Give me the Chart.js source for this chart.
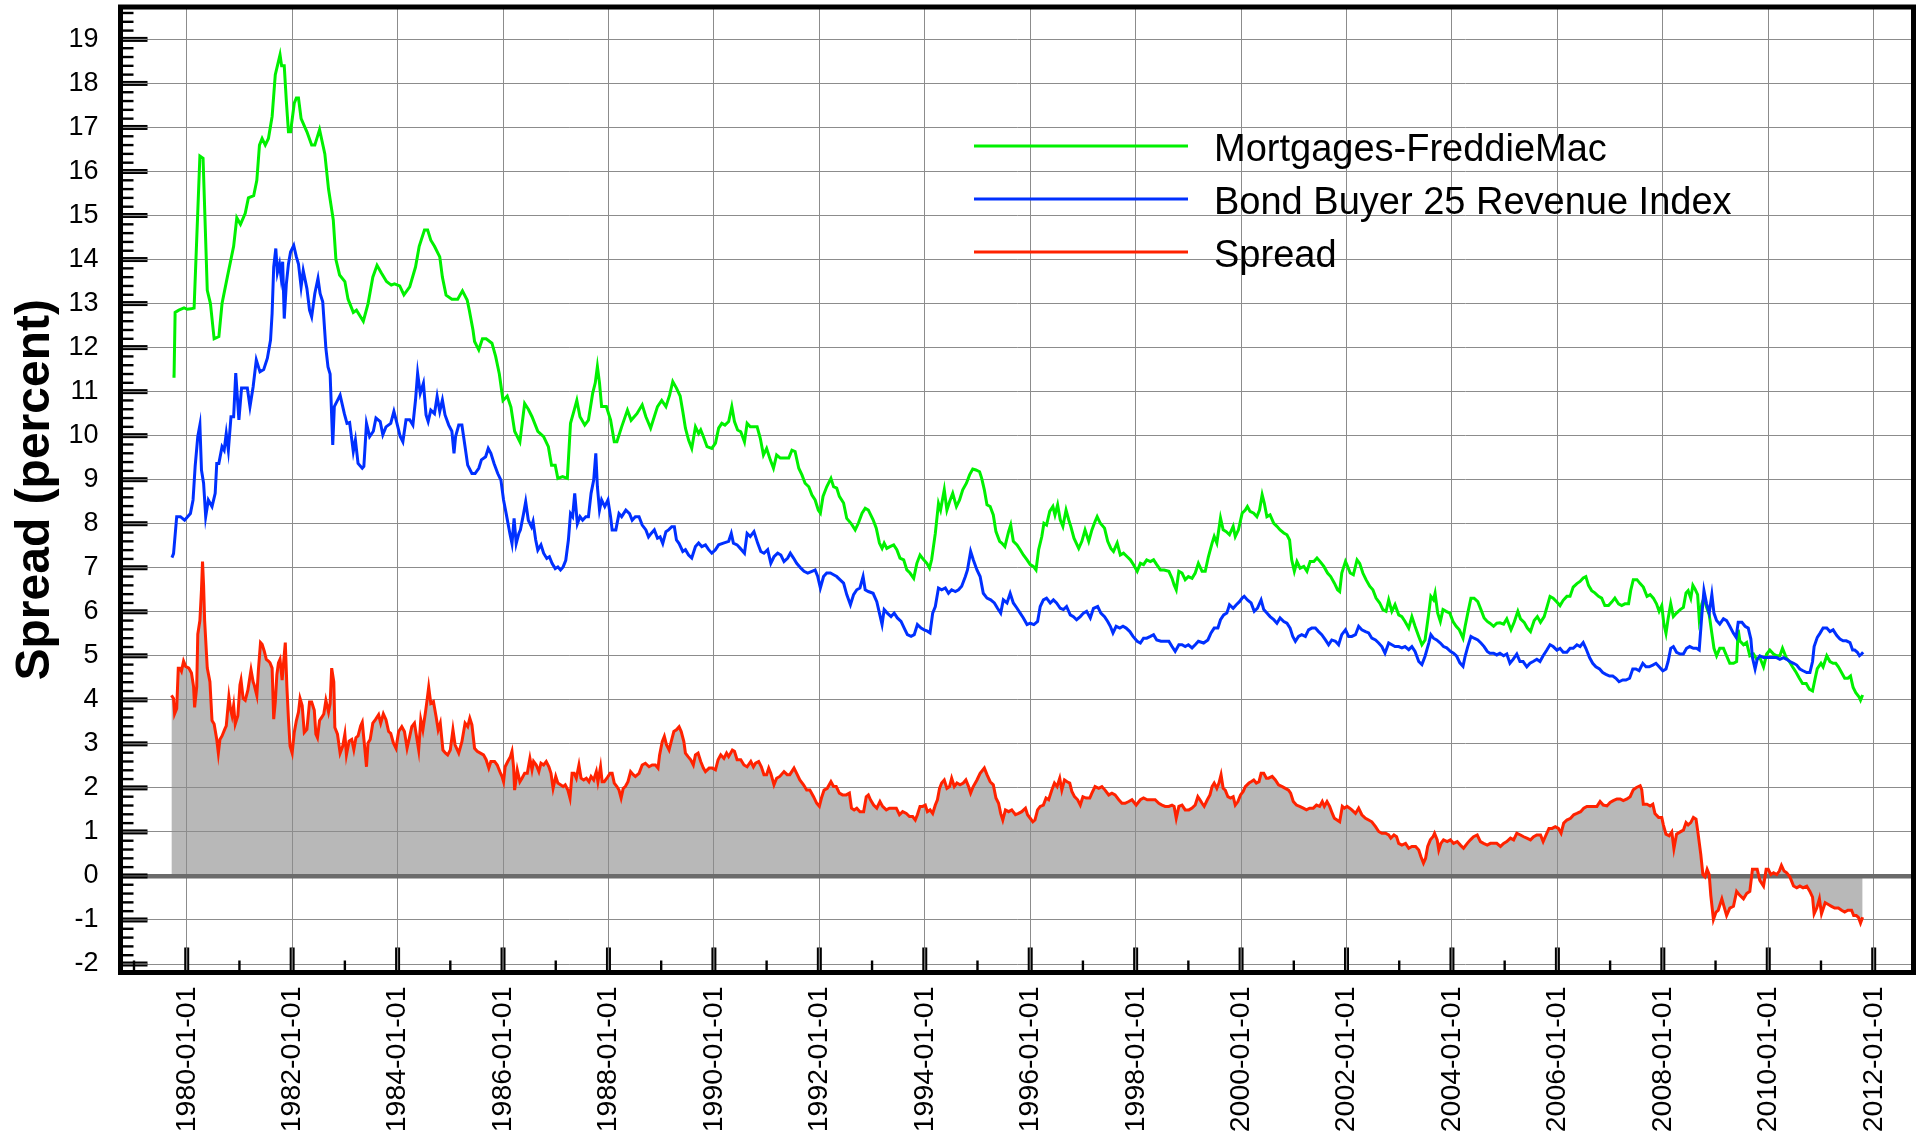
<!DOCTYPE html>
<html><head><meta charset="utf-8">
<script src="https://cdn.jsdelivr.net/npm/chart.js@4.4.0/dist/chart.umd.min.js"></script>
<style>html,body{margin:0;padding:0;background:#fff;}#wrap{width:1919px;height:1133px;position:relative;}</style>
</head><body><div id="wrap"><canvas id="c" width="1919" height="1133"></canvas></div>
<script>
const xTickYears = [1980,1982,1984,1986,1988,1990,1992,1994,1996,1998,2000,2002,2004,2006,2008,2010,2012];
const yTickValues = [-2,-1,0,1,2,3,4,5,6,7,8,9,10,11,12,13,14,15,16,17,18,19];
const seriesLabels = ['Mortgages-FreddieMac','Bond Buyer 25 Revenue Index','Spread'];

const mortgageSeries = [[1979.73,11.35],[1979.76,11.35],[1979.78,12.8],[1979.85,12.85],[1979.95,12.9],[1980.01,12.87],[1980.08,12.88],[1980.14,12.9],[1980.25,16.35],[1980.31,16.3],[1980.39,13.3],[1980.45,13.0],[1980.52,12.2],[1980.61,12.25],[1980.67,13.0],[1980.77,13.6],[1980.89,14.3],[1980.95,14.95],[1981.02,14.8],[1981.11,15.05],[1981.17,15.4],[1981.27,15.45],[1981.33,15.8],[1981.38,16.6],[1981.43,16.75],[1981.49,16.6],[1981.55,16.75],[1981.62,17.25],[1981.68,18.2],[1981.72,18.4],[1981.77,18.65],[1981.8,18.4],[1981.85,18.4],[1981.89,17.6],[1981.93,16.9],[1981.97,16.9],[1982.04,17.55],[1982.08,17.67],[1982.12,17.67],[1982.17,17.2],[1982.28,16.9],[1982.37,16.6],[1982.43,16.6],[1982.52,16.95],[1982.62,16.4],[1982.69,15.6],[1982.78,14.9],[1982.83,14.0],[1982.9,13.65],[1983.0,13.5],[1983.06,13.1],[1983.16,12.8],[1983.22,12.85],[1983.35,12.6],[1983.44,13.0],[1983.53,13.6],[1983.61,13.87],[1983.69,13.7],[1983.79,13.5],[1983.88,13.42],[1983.94,13.45],[1984.04,13.4],[1984.12,13.2],[1984.23,13.38],[1984.34,13.83],[1984.41,14.3],[1984.51,14.67],[1984.57,14.67],[1984.63,14.44],[1984.7,14.3],[1984.8,14.06],[1984.85,13.6],[1984.92,13.19],[1985.03,13.1],[1985.14,13.1],[1985.23,13.29],[1985.32,13.08],[1985.36,12.85],[1985.43,12.4],[1985.46,12.14],[1985.54,11.95],[1985.61,12.2],[1985.68,12.2],[1985.79,12.1],[1985.86,11.8],[1985.93,11.4],[1986.0,10.8],[1986.08,10.9],[1986.15,10.65],[1986.22,10.1],[1986.32,9.86],[1986.41,10.73],[1986.48,10.6],[1986.55,10.43],[1986.66,10.1],[1986.77,9.98],[1986.86,9.75],[1986.92,9.33],[1986.99,9.33],[1987.04,9.03],[1987.13,9.07],[1987.22,9.03],[1987.28,10.28],[1987.35,10.58],[1987.4,10.8],[1987.46,10.43],[1987.55,10.24],[1987.62,10.35],[1987.7,10.96],[1987.75,11.2],[1987.79,11.57],[1987.83,11.2],[1987.87,10.66],[1987.96,10.66],[1988.04,10.36],[1988.11,9.86],[1988.16,9.86],[1988.25,10.2],[1988.36,10.58],[1988.43,10.35],[1988.54,10.5],[1988.64,10.7],[1988.71,10.43],[1988.8,10.17],[1988.93,10.66],[1989.01,10.8],[1989.09,10.66],[1989.16,10.92],[1989.22,11.23],[1989.29,11.08],[1989.36,10.9],[1989.41,10.55],[1989.46,10.17],[1989.52,9.9],[1989.58,9.71],[1989.65,10.2],[1989.71,10.05],[1989.75,10.13],[1989.8,9.98],[1989.87,9.75],[1989.96,9.71],[1990.03,9.83],[1990.09,10.17],[1990.15,10.28],[1990.21,10.24],[1990.28,10.32],[1990.34,10.66],[1990.39,10.32],[1990.45,10.13],[1990.51,10.09],[1990.58,9.86],[1990.63,10.28],[1990.69,10.2],[1990.75,10.2],[1990.82,10.2],[1990.88,9.94],[1990.94,9.56],[1991.0,9.71],[1991.07,9.45],[1991.13,9.26],[1991.19,9.56],[1991.26,9.49],[1991.35,9.49],[1991.42,9.49],[1991.48,9.67],[1991.54,9.64],[1991.61,9.26],[1991.67,9.11],[1991.73,8.92],[1991.8,8.84],[1991.86,8.65],[1991.92,8.54],[1991.98,8.31],[1992.02,8.24],[1992.07,8.62],[1992.14,8.84],[1992.22,9.03],[1992.27,8.84],[1992.33,8.81],[1992.38,8.62],[1992.46,8.47],[1992.52,8.12],[1992.6,8.01],[1992.68,7.86],[1992.74,8.01],[1992.81,8.24],[1992.87,8.35],[1992.93,8.31],[1993.02,8.09],[1993.08,7.9],[1993.14,7.56],[1993.19,7.44],[1993.23,7.56],[1993.28,7.44],[1993.34,7.48],[1993.41,7.52],[1993.47,7.41],[1993.53,7.22],[1993.6,7.18],[1993.66,6.95],[1993.72,6.88],[1993.79,6.76],[1993.85,7.1],[1993.91,7.29],[1993.98,7.18],[1994.04,7.1],[1994.09,6.99],[1994.13,7.18],[1994.2,7.78],[1994.26,8.46],[1994.3,8.31],[1994.37,8.77],[1994.42,8.31],[1994.47,8.5],[1994.53,8.69],[1994.6,8.39],[1994.66,8.54],[1994.72,8.77],[1994.79,8.92],[1994.85,9.11],[1994.91,9.24],[1994.97,9.22],[1995.04,9.18],[1995.08,9.03],[1995.13,8.77],[1995.18,8.43],[1995.24,8.39],[1995.3,8.2],[1995.35,7.82],[1995.42,7.6],[1995.46,7.56],[1995.52,7.48],[1995.59,7.82],[1995.63,7.97],[1995.68,7.6],[1995.75,7.52],[1995.81,7.41],[1995.87,7.29],[1995.94,7.18],[1996.0,7.07],[1996.06,7.03],[1996.11,6.95],[1996.16,7.41],[1996.22,7.71],[1996.26,8.01],[1996.31,7.97],[1996.37,8.28],[1996.43,8.39],[1996.47,8.2],[1996.52,8.43],[1996.57,8.09],[1996.62,7.94],[1996.68,8.31],[1996.73,8.09],[1996.77,7.94],[1996.83,7.67],[1996.92,7.44],[1996.98,7.6],[1997.04,7.86],[1997.11,7.6],[1997.17,7.86],[1997.23,8.05],[1997.27,8.16],[1997.33,8.01],[1997.41,7.9],[1997.47,7.6],[1997.53,7.44],[1997.58,7.37],[1997.65,7.56],[1997.71,7.29],[1997.77,7.33],[1997.84,7.25],[1997.9,7.18],[1997.96,7.07],[1998.03,6.92],[1998.09,7.1],[1998.15,7.07],[1998.21,7.18],[1998.28,7.14],[1998.34,7.18],[1998.4,7.07],[1998.47,6.95],[1998.54,6.95],[1998.63,6.92],[1998.69,6.76],[1998.73,6.61],[1998.77,6.5],[1998.82,6.92],[1998.88,6.88],[1998.94,6.73],[1999.0,6.8],[1999.07,6.76],[1999.13,6.88],[1999.19,7.1],[1999.26,6.92],[1999.32,6.92],[1999.38,7.25],[1999.45,7.56],[1999.49,7.71],[1999.54,7.56],[1999.61,8.13],[1999.66,7.86],[1999.72,7.82],[1999.78,7.75],[1999.85,7.94],[1999.89,7.71],[1999.95,7.86],[2000.02,8.24],[2000.08,8.31],[2000.12,8.39],[2000.17,8.28],[2000.24,8.24],[2000.3,8.16],[2000.35,8.31],[2000.4,8.66],[2000.44,8.47],[2000.49,8.16],[2000.55,8.2],[2000.62,8.01],[2000.68,7.94],[2000.74,7.86],[2000.81,7.79],[2000.87,7.75],[2000.92,7.63],[2000.96,7.18],[2001.01,6.92],[2001.06,7.14],[2001.12,6.99],[2001.19,7.03],[2001.25,6.92],[2001.31,7.14],[2001.38,7.14],[2001.44,7.22],[2001.5,7.14],[2001.57,7.03],[2001.64,6.88],[2001.7,6.8],[2001.77,6.65],[2001.83,6.5],[2001.87,6.46],[2001.91,6.88],[2001.98,7.14],[2002.02,7.03],[2002.07,6.88],[2002.13,6.84],[2002.2,7.18],[2002.25,7.1],[2002.31,6.88],[2002.37,6.73],[2002.44,6.58],[2002.5,6.5],[2002.56,6.31],[2002.63,6.2],[2002.69,6.05],[2002.75,6.01],[2002.8,6.27],[2002.86,6.01],[2002.92,6.16],[2002.99,5.93],[2003.05,5.89],[2003.11,5.78],[2003.18,5.63],[2003.24,5.89],[2003.3,5.67],[2003.37,5.44],[2003.43,5.25],[2003.49,5.36],[2003.56,5.97],[2003.6,6.35],[2003.65,6.27],[2003.68,6.42],[2003.73,5.97],[2003.78,5.78],[2003.83,6.05],[2003.89,6.01],[2003.96,5.97],[2004.02,5.78],[2004.08,5.67],[2004.14,5.59],[2004.21,5.4],[2004.25,5.67],[2004.3,5.97],[2004.36,6.31],[2004.42,6.31],[2004.49,6.23],[2004.55,6.05],[2004.61,5.86],[2004.67,5.78],[2004.72,5.74],[2004.79,5.67],[2004.85,5.74],[2004.91,5.75],[2004.98,5.72],[2005.04,5.84],[2005.12,5.59],[2005.18,5.76],[2005.25,6.01],[2005.3,5.84],[2005.37,5.76],[2005.43,5.63],[2005.49,5.55],[2005.56,5.8],[2005.62,5.89],[2005.68,5.76],[2005.75,5.89],[2005.81,6.14],[2005.86,6.35],[2005.92,6.31],[2005.99,6.22],[2006.05,6.14],[2006.11,6.26],[2006.18,6.35],[2006.24,6.35],[2006.3,6.56],[2006.37,6.64],[2006.43,6.69],[2006.49,6.77],[2006.54,6.8],[2006.59,6.6],[2006.65,6.48],[2006.71,6.43],[2006.78,6.35],[2006.84,6.31],[2006.9,6.14],[2006.97,6.14],[2007.03,6.22],[2007.09,6.31],[2007.16,6.18],[2007.22,6.14],[2007.28,6.18],[2007.35,6.18],[2007.39,6.48],[2007.44,6.73],[2007.51,6.73],[2007.57,6.64],[2007.63,6.56],[2007.7,6.35],[2007.76,6.39],[2007.82,6.31],[2007.88,6.18],[2007.93,6.01],[2007.98,6.14],[2008.02,5.72],[2008.06,5.51],[2008.1,5.84],[2008.15,6.18],[2008.2,5.89],[2008.26,5.97],[2008.33,6.05],[2008.39,6.1],[2008.44,6.43],[2008.48,6.48],[2008.53,6.31],[2008.57,6.6],[2008.61,6.52],[2008.66,6.39],[2008.69,5.84],[2008.74,6.18],[2008.78,6.31],[2008.83,6.1],[2008.88,5.93],[2008.93,5.51],[2008.97,5.17],[2009.02,5.0],[2009.08,5.17],[2009.15,5.17],[2009.21,5.0],[2009.27,4.83],[2009.34,4.83],[2009.4,4.87],[2009.43,5.59],[2009.46,5.34],[2009.53,5.25],[2009.59,5.3],[2009.65,5.0],[2009.72,5.04],[2009.78,4.92],[2009.84,4.96],[2009.91,4.75],[2009.97,5.04],[2010.03,5.13],[2010.1,5.04],[2010.16,5.0],[2010.22,5.0],[2010.27,5.17],[2010.34,4.96],[2010.4,4.87],[2010.46,4.75],[2010.53,4.62],[2010.59,4.49],[2010.65,4.37],[2010.72,4.37],[2010.78,4.24],[2010.84,4.2],[2010.89,4.49],[2010.93,4.71],[2011.0,4.83],[2011.04,4.75],[2011.11,5.0],[2011.17,4.87],[2011.23,4.83],[2011.28,4.83],[2011.33,4.75],[2011.39,4.62],[2011.45,4.49],[2011.51,4.49],[2011.56,4.54],[2011.61,4.28],[2011.66,4.16],[2011.72,4.07],[2011.75,3.99],[2011.79,4.11]];

const bondSeries = [[1979.72,7.23],[1979.75,7.32],[1979.81,8.16],[1979.88,8.16],[1979.96,8.08],[1980.07,8.23],[1980.12,8.54],[1980.16,9.3],[1980.21,9.98],[1980.25,10.24],[1980.28,9.22],[1980.32,8.92],[1980.36,8.16],[1980.41,8.54],[1980.48,8.39],[1980.54,8.69],[1980.57,9.37],[1980.61,9.37],[1980.67,9.75],[1980.71,9.67],[1980.75,10.05],[1980.79,9.67],[1980.84,10.43],[1980.89,10.43],[1980.93,11.42],[1980.99,10.36],[1981.04,11.08],[1981.11,11.08],[1981.15,11.08],[1981.2,10.66],[1981.26,11.11],[1981.32,11.72],[1981.39,11.45],[1981.46,11.5],[1981.53,11.76],[1981.59,12.17],[1981.62,12.78],[1981.65,13.83],[1981.69,14.25],[1981.72,13.7],[1981.76,13.9],[1981.79,13.6],[1981.82,13.95],[1981.85,12.66],[1981.89,13.45],[1981.93,13.9],[1981.97,14.17],[1982.03,14.32],[1982.08,14.06],[1982.12,13.9],[1982.17,13.38],[1982.21,13.75],[1982.28,13.34],[1982.33,12.85],[1982.37,12.7],[1982.43,13.23],[1982.49,13.57],[1982.53,13.23],[1982.58,13.04],[1982.64,11.98],[1982.68,11.56],[1982.72,11.4],[1982.77,9.79],[1982.8,10.66],[1982.86,10.8],[1982.91,10.92],[1982.99,10.5],[1983.04,10.28],[1983.09,10.3],[1983.16,9.64],[1983.2,9.9],[1983.25,9.37],[1983.33,9.26],[1983.36,9.3],[1983.41,10.28],[1983.47,9.98],[1983.54,10.1],[1983.59,10.4],[1983.67,10.32],[1983.72,10.02],[1983.78,10.2],[1983.87,10.28],[1983.93,10.55],[1983.98,10.32],[1984.05,9.98],[1984.1,9.86],[1984.16,10.36],[1984.23,10.36],[1984.29,10.24],[1984.34,10.81],[1984.38,11.42],[1984.43,10.96],[1984.49,11.19],[1984.54,10.47],[1984.58,10.32],[1984.63,10.58],[1984.7,10.5],[1984.75,10.89],[1984.8,10.55],[1984.85,10.81],[1984.9,10.47],[1984.97,10.24],[1985.03,10.1],[1985.07,9.6],[1985.1,9.98],[1985.16,10.24],[1985.22,10.24],[1985.28,9.75],[1985.33,9.33],[1985.41,9.14],[1985.47,9.14],[1985.54,9.26],[1985.59,9.45],[1985.67,9.52],[1985.72,9.71],[1985.77,9.6],[1985.83,9.37],[1985.9,9.14],[1985.96,8.99],[1986.01,8.54],[1986.06,8.23],[1986.13,7.78],[1986.17,7.55],[1986.21,8.12],[1986.25,7.55],[1986.3,7.78],[1986.33,7.86],[1986.39,8.23],[1986.43,8.5],[1986.48,8.08],[1986.54,7.93],[1986.57,8.05],[1986.62,7.63],[1986.66,7.4],[1986.72,7.52],[1986.77,7.33],[1986.83,7.21],[1986.88,7.25],[1986.93,7.1],[1986.99,6.98],[1987.04,7.02],[1987.09,6.95],[1987.14,7.02],[1987.19,7.17],[1987.24,7.63],[1987.28,8.23],[1987.32,8.16],[1987.36,8.69],[1987.41,8.0],[1987.46,8.16],[1987.51,8.08],[1987.57,8.16],[1987.62,8.16],[1987.67,8.69],[1987.72,8.99],[1987.76,9.6],[1987.79,8.84],[1987.83,8.31],[1987.87,8.54],[1987.93,8.39],[1987.99,8.54],[1988.04,8.16],[1988.07,7.86],[1988.14,7.86],[1988.2,8.23],[1988.25,8.16],[1988.33,8.31],[1988.4,8.23],[1988.45,8.08],[1988.51,8.16],[1988.58,8.16],[1988.64,7.97],[1988.71,7.86],[1988.76,7.7],[1988.81,7.78],[1988.87,7.86],[1988.93,7.67],[1988.98,7.7],[1989.03,7.55],[1989.09,7.82],[1989.14,7.86],[1989.2,7.93],[1989.25,7.93],[1989.29,7.63],[1989.34,7.55],[1989.41,7.37],[1989.46,7.41],[1989.52,7.29],[1989.58,7.22],[1989.65,7.48],[1989.71,7.56],[1989.77,7.48],[1989.84,7.52],[1989.9,7.41],[1989.96,7.33],[1990.03,7.41],[1990.09,7.52],[1990.18,7.56],[1990.28,7.6],[1990.33,7.78],[1990.37,7.56],[1990.44,7.52],[1990.5,7.44],[1990.58,7.33],[1990.63,7.78],[1990.69,7.71],[1990.76,7.82],[1990.83,7.56],[1990.89,7.37],[1990.95,7.33],[1991.02,7.41],[1991.08,7.1],[1991.14,7.25],[1991.21,7.33],[1991.27,7.29],[1991.33,7.14],[1991.4,7.22],[1991.45,7.33],[1991.51,7.22],[1991.57,7.1],[1991.65,6.99],[1991.71,6.92],[1991.78,6.88],[1991.86,6.92],[1991.92,6.95],[1991.97,6.8],[1992.02,6.54],[1992.08,6.8],[1992.14,6.88],[1992.21,6.88],[1992.27,6.84],[1992.33,6.8],[1992.39,6.73],[1992.46,6.65],[1992.52,6.39],[1992.59,6.16],[1992.65,6.39],[1992.71,6.5],[1992.77,6.54],[1992.83,6.8],[1992.87,6.5],[1992.93,6.46],[1993.02,6.42],[1993.09,6.23],[1993.14,5.97],[1993.19,5.71],[1993.23,6.05],[1993.29,5.97],[1993.36,5.89],[1993.42,5.97],[1993.48,5.86],[1993.55,5.78],[1993.61,5.63],[1993.67,5.48],[1993.74,5.44],[1993.8,5.48],[1993.86,5.71],[1993.93,5.63],[1993.99,5.59],[1994.05,5.56],[1994.1,5.52],[1994.15,5.97],[1994.2,6.12],[1994.26,6.54],[1994.32,6.5],[1994.39,6.54],[1994.45,6.42],[1994.51,6.5],[1994.58,6.46],[1994.64,6.5],[1994.7,6.58],[1994.77,6.8],[1994.81,6.95],[1994.87,7.37],[1994.92,7.18],[1994.99,6.95],[1995.05,6.8],[1995.11,6.42],[1995.18,6.31],[1995.25,6.27],[1995.32,6.2],[1995.38,6.08],[1995.44,5.97],[1995.49,6.27],[1995.56,6.2],[1995.62,6.42],[1995.68,6.2],[1995.75,6.08],[1995.81,5.97],[1995.87,5.86],[1995.94,5.71],[1996.0,5.74],[1996.07,5.71],[1996.14,5.78],[1996.19,6.12],[1996.25,6.27],[1996.31,6.31],[1996.38,6.2],[1996.44,6.27],[1996.5,6.2],[1996.57,6.08],[1996.63,6.05],[1996.69,6.12],[1996.76,5.93],[1996.82,5.89],[1996.88,5.82],[1996.95,5.89],[1997.01,5.97],[1997.07,6.01],[1997.14,5.86],[1997.2,6.08],[1997.28,6.12],[1997.34,5.97],[1997.41,5.89],[1997.47,5.78],[1997.52,5.67],[1997.57,5.52],[1997.63,5.67],[1997.7,5.63],[1997.76,5.67],[1997.82,5.63],[1997.89,5.55],[1997.95,5.44],[1998.03,5.33],[1998.09,5.29],[1998.15,5.4],[1998.21,5.4],[1998.28,5.44],[1998.34,5.48],[1998.4,5.36],[1998.48,5.33],[1998.56,5.33],[1998.63,5.33],[1998.69,5.21],[1998.75,5.1],[1998.82,5.25],[1998.88,5.25],[1998.94,5.21],[1999.0,5.25],[1999.07,5.18],[1999.13,5.25],[1999.19,5.33],[1999.29,5.29],[1999.37,5.36],[1999.43,5.52],[1999.49,5.63],[1999.56,5.63],[1999.61,5.82],[1999.67,5.93],[1999.73,5.97],[1999.78,6.16],[1999.85,6.08],[1999.91,6.16],[1999.97,6.23],[2000.02,6.31],[2000.06,6.35],[2000.12,6.27],[2000.19,6.2],[2000.25,6.01],[2000.31,6.08],[2000.38,6.27],[2000.43,6.05],[2000.49,5.97],[2000.55,5.89],[2000.62,5.82],[2000.68,5.74],[2000.74,5.86],[2000.81,5.78],[2000.87,5.74],[2000.93,5.63],[2000.98,5.44],[2001.03,5.33],[2001.09,5.44],[2001.15,5.48],[2001.22,5.44],[2001.28,5.59],[2001.34,5.63],[2001.41,5.63],[2001.47,5.55],[2001.53,5.48],[2001.6,5.36],[2001.66,5.25],[2001.72,5.36],[2001.79,5.33],[2001.85,5.25],[2001.91,5.48],[2001.98,5.59],[2002.04,5.44],[2002.1,5.44],[2002.17,5.48],[2002.23,5.67],[2002.29,5.59],[2002.36,5.55],[2002.42,5.52],[2002.48,5.4],[2002.55,5.36],[2002.61,5.29],[2002.67,5.21],[2002.73,5.06],[2002.8,5.29],[2002.86,5.25],[2002.92,5.21],[2002.99,5.21],[2003.05,5.18],[2003.11,5.21],[2003.18,5.14],[2003.24,5.21],[2003.3,5.1],[2003.37,4.87],[2003.43,4.8],[2003.49,4.99],[2003.56,5.29],[2003.6,5.48],[2003.65,5.4],[2003.71,5.36],[2003.78,5.29],[2003.84,5.21],[2003.9,5.18],[2003.97,5.1],[2004.03,5.06],[2004.09,4.99],[2004.15,4.84],[2004.21,4.76],[2004.25,4.99],[2004.3,5.21],[2004.36,5.44],[2004.42,5.4],[2004.49,5.36],[2004.55,5.29],[2004.61,5.21],[2004.67,5.1],[2004.72,5.06],[2004.79,5.06],[2004.85,5.02],[2004.91,5.06],[2004.98,5.0],[2005.04,5.04],[2005.1,4.83],[2005.16,4.92],[2005.23,5.04],[2005.29,4.87],[2005.35,4.87],[2005.42,4.75],[2005.48,4.83],[2005.54,4.87],[2005.61,4.92],[2005.67,4.87],[2005.73,5.0],[2005.8,5.13],[2005.86,5.25],[2005.92,5.21],[2005.99,5.13],[2006.05,5.17],[2006.11,5.08],[2006.18,5.08],[2006.24,5.17],[2006.3,5.17],[2006.37,5.25],[2006.43,5.21],[2006.49,5.3],[2006.54,5.17],[2006.61,4.96],[2006.67,4.83],[2006.73,4.75],[2006.8,4.7],[2006.86,4.62],[2006.92,4.58],[2006.99,4.54],[2007.05,4.54],[2007.11,4.49],[2007.17,4.41],[2007.24,4.45],[2007.3,4.45],[2007.37,4.49],[2007.43,4.7],[2007.49,4.7],[2007.55,4.66],[2007.62,4.83],[2007.68,4.75],[2007.74,4.75],[2007.81,4.79],[2007.87,4.83],[2007.93,4.75],[2008.0,4.66],[2008.06,4.7],[2008.1,4.87],[2008.15,5.17],[2008.2,5.21],[2008.26,5.08],[2008.33,5.04],[2008.39,5.04],[2008.45,5.17],[2008.51,5.21],[2008.58,5.17],[2008.64,5.17],[2008.69,5.13],[2008.74,5.93],[2008.78,6.48],[2008.83,6.18],[2008.88,5.97],[2008.93,6.39],[2008.97,5.97],[2009.02,5.8],[2009.08,5.72],[2009.15,5.84],[2009.21,5.8],[2009.27,5.67],[2009.34,5.51],[2009.39,5.42],[2009.43,5.76],[2009.5,5.76],[2009.56,5.67],[2009.62,5.63],[2009.67,5.38],[2009.7,4.96],[2009.75,4.7],[2009.79,4.92],[2009.84,5.0],[2009.91,4.96],[2009.97,4.96],[2010.03,4.96],[2010.1,4.96],[2010.16,4.96],[2010.22,4.92],[2010.29,4.96],[2010.35,4.92],[2010.41,4.87],[2010.48,4.83],[2010.54,4.79],[2010.6,4.7],[2010.66,4.66],[2010.73,4.62],[2010.79,4.62],[2010.84,4.87],[2010.87,5.21],[2010.93,5.42],[2010.98,5.51],[2011.04,5.63],[2011.11,5.63],[2011.17,5.55],[2011.23,5.59],[2011.3,5.46],[2011.36,5.38],[2011.42,5.34],[2011.48,5.34],[2011.55,5.3],[2011.6,5.13],[2011.64,5.13],[2011.69,5.08],[2011.73,5.0],[2011.77,5.04],[2011.8,5.08]];

const spreadSeries = [[1979.71,4.1],[1979.75,4.03],[1979.77,3.68],[1979.81,3.8],[1979.84,4.72],[1979.87,4.72],[1979.9,4.65],[1979.94,4.88],[1979.98,4.76],[1980.04,4.72],[1980.09,4.61],[1980.13,4.3],[1980.15,3.83],[1980.19,4.3],[1980.21,5.49],[1980.25,5.8],[1980.28,6.5],[1980.3,7.14],[1980.32,6.6],[1980.34,5.8],[1980.39,4.72],[1980.44,4.41],[1980.48,3.53],[1980.52,3.45],[1980.57,3.1],[1980.6,2.79],[1980.63,3.1],[1980.67,3.18],[1980.72,3.33],[1980.75,3.41],[1980.8,4.07],[1980.83,3.8],[1980.86,3.64],[1980.89,3.87],[1980.92,3.45],[1980.97,3.64],[1981.01,4.34],[1981.03,4.45],[1981.07,4.03],[1981.11,3.99],[1981.16,4.22],[1981.19,4.45],[1981.22,4.68],[1981.26,4.41],[1981.28,4.34],[1981.33,4.1],[1981.36,4.68],[1981.4,5.3],[1981.43,5.26],[1981.47,5.11],[1981.51,4.92],[1981.55,4.88],[1981.58,4.84],[1981.62,4.72],[1981.65,3.56],[1981.68,3.95],[1981.71,4.57],[1981.74,4.84],[1981.77,4.92],[1981.81,4.45],[1981.84,4.88],[1981.87,5.3],[1981.9,4.3],[1981.93,3.56],[1981.96,2.95],[1982.0,2.79],[1982.04,3.26],[1982.08,3.53],[1982.12,3.72],[1982.15,4.03],[1982.19,3.87],[1982.23,3.26],[1982.28,3.33],[1982.33,3.95],[1982.37,3.95],[1982.42,3.76],[1982.45,3.22],[1982.48,3.14],[1982.52,3.53],[1982.56,3.6],[1982.6,3.68],[1982.64,3.99],[1982.69,3.72],[1982.72,3.91],[1982.75,4.72],[1982.79,4.41],[1982.81,3.37],[1982.86,3.22],[1982.91,2.79],[1982.96,2.95],[1983.0,3.22],[1983.03,2.75],[1983.08,3.06],[1983.13,3.1],[1983.17,2.87],[1983.21,3.14],[1983.25,3.18],[1983.3,3.41],[1983.33,3.49],[1983.38,2.87],[1983.41,2.48],[1983.44,3.02],[1983.48,3.1],[1983.53,3.47],[1983.58,3.55],[1983.64,3.66],[1983.68,3.47],[1983.73,3.68],[1983.78,3.55],[1983.83,3.28],[1983.87,3.24],[1983.92,3.02],[1983.97,2.9],[1984.02,3.28],[1984.08,3.39],[1984.13,3.28],[1984.18,2.9],[1984.23,3.17],[1984.27,3.39],[1984.32,3.47],[1984.35,3.24],[1984.4,2.86],[1984.44,3.55],[1984.48,3.32],[1984.53,3.73],[1984.56,4.0],[1984.59,4.29],[1984.63,3.92],[1984.68,3.96],[1984.73,3.62],[1984.77,3.32],[1984.81,3.47],[1984.86,2.86],[1984.91,2.79],[1984.95,2.75],[1985.0,2.86],[1985.05,3.32],[1985.09,2.98],[1985.16,2.79],[1985.22,3.05],[1985.28,3.47],[1985.33,3.39],[1985.37,3.58],[1985.41,3.43],[1985.46,2.9],[1985.51,2.83],[1985.57,2.79],[1985.63,2.75],[1985.68,2.64],[1985.73,2.45],[1985.77,2.6],[1985.84,2.6],[1985.89,2.52],[1985.94,2.37],[1985.98,2.26],[1986.01,2.14],[1986.04,2.48],[1986.09,2.6],[1986.14,2.71],[1986.17,2.83],[1986.2,2.48],[1986.22,1.95],[1986.27,2.41],[1986.32,2.14],[1986.36,2.22],[1986.41,2.33],[1986.46,2.33],[1986.51,2.67],[1986.55,2.41],[1986.58,2.6],[1986.63,2.52],[1986.68,2.37],[1986.72,2.56],[1986.77,2.52],[1986.82,2.6],[1986.87,2.48],[1986.91,2.33],[1986.95,1.99],[1987.0,2.26],[1987.04,2.11],[1987.09,2.07],[1987.14,2.03],[1987.18,2.07],[1987.23,1.95],[1987.27,1.77],[1987.31,2.33],[1987.35,2.33],[1987.39,2.22],[1987.44,2.52],[1987.48,2.22],[1987.53,2.18],[1987.58,2.22],[1987.63,2.14],[1987.67,2.26],[1987.72,2.18],[1987.77,2.37],[1987.8,2.14],[1987.85,2.48],[1987.88,2.14],[1987.92,2.14],[1987.97,2.22],[1988.03,2.33],[1988.07,2.33],[1988.11,2.11],[1988.16,2.03],[1988.2,1.95],[1988.24,1.77],[1988.28,1.99],[1988.32,2.03],[1988.37,2.14],[1988.42,2.37],[1988.47,2.3],[1988.51,2.26],[1988.58,2.33],[1988.64,2.52],[1988.7,2.56],[1988.77,2.48],[1988.83,2.52],[1988.89,2.52],[1988.94,2.45],[1988.97,2.75],[1989.02,3.05],[1989.06,3.17],[1989.1,2.98],[1989.15,2.86],[1989.19,3.05],[1989.24,3.28],[1989.29,3.32],[1989.34,3.39],[1989.38,3.28],[1989.43,3.05],[1989.46,2.79],[1989.51,2.71],[1989.56,2.64],[1989.61,2.52],[1989.65,2.75],[1989.7,2.79],[1989.75,2.6],[1989.8,2.45],[1989.84,2.37],[1989.91,2.45],[1989.97,2.45],[1990.03,2.41],[1990.08,2.64],[1990.13,2.75],[1990.19,2.67],[1990.24,2.79],[1990.28,2.71],[1990.35,2.86],[1990.39,2.83],[1990.44,2.64],[1990.51,2.64],[1990.57,2.52],[1990.63,2.48],[1990.7,2.6],[1990.75,2.48],[1990.79,2.56],[1990.85,2.6],[1990.9,2.48],[1990.95,2.3],[1991.0,2.3],[1991.04,2.45],[1991.08,2.33],[1991.14,2.07],[1991.19,2.22],[1991.25,2.26],[1991.33,2.37],[1991.39,2.3],[1991.44,2.3],[1991.52,2.45],[1991.57,2.33],[1991.63,2.18],[1991.7,2.07],[1991.76,1.95],[1991.82,1.95],[1991.89,1.8],[1991.95,1.65],[1992.0,1.58],[1992.04,1.77],[1992.09,1.95],[1992.15,1.99],[1992.22,2.14],[1992.27,2.03],[1992.32,2.03],[1992.38,1.88],[1992.44,1.84],[1992.51,1.84],[1992.57,1.88],[1992.61,1.54],[1992.66,1.5],[1992.71,1.54],[1992.77,1.46],[1992.84,1.46],[1992.89,1.8],[1992.93,1.84],[1992.97,1.73],[1993.03,1.61],[1993.09,1.54],[1993.15,1.69],[1993.2,1.58],[1993.27,1.5],[1993.33,1.54],[1993.39,1.54],[1993.46,1.54],[1993.52,1.39],[1993.58,1.46],[1993.65,1.42],[1993.71,1.35],[1993.77,1.35],[1993.82,1.27],[1993.86,1.39],[1993.91,1.58],[1993.96,1.58],[1994.01,1.61],[1994.05,1.46],[1994.1,1.5],[1994.15,1.42],[1994.2,1.61],[1994.24,1.73],[1994.28,1.99],[1994.32,2.11],[1994.37,2.18],[1994.42,1.99],[1994.47,2.03],[1994.51,2.22],[1994.56,2.03],[1994.61,2.11],[1994.67,2.07],[1994.73,2.11],[1994.78,2.18],[1994.83,2.03],[1994.87,1.88],[1994.92,2.03],[1994.99,2.18],[1995.05,2.33],[1995.13,2.45],[1995.18,2.3],[1995.24,2.14],[1995.3,2.07],[1995.35,1.77],[1995.4,1.65],[1995.44,1.42],[1995.48,1.27],[1995.53,1.5],[1995.59,1.46],[1995.65,1.5],[1995.72,1.39],[1995.78,1.42],[1995.84,1.46],[1995.91,1.54],[1995.95,1.39],[1996.0,1.31],[1996.05,1.23],[1996.09,1.27],[1996.14,1.5],[1996.19,1.58],[1996.25,1.61],[1996.3,1.77],[1996.35,1.73],[1996.41,1.95],[1996.46,2.11],[1996.51,2.03],[1996.56,2.22],[1996.6,1.95],[1996.65,2.18],[1996.7,2.14],[1996.75,2.11],[1996.79,1.92],[1996.84,1.8],[1996.9,1.73],[1996.95,1.61],[1997.0,1.8],[1997.06,1.77],[1997.13,1.77],[1997.17,1.88],[1997.23,2.03],[1997.3,1.99],[1997.36,2.03],[1997.42,1.95],[1997.49,1.84],[1997.55,1.88],[1997.61,1.84],[1997.68,1.73],[1997.74,1.65],[1997.8,1.65],[1997.87,1.69],[1997.93,1.73],[1998.01,1.61],[1998.09,1.73],[1998.15,1.77],[1998.22,1.73],[1998.29,1.73],[1998.37,1.73],[1998.44,1.65],[1998.5,1.61],[1998.56,1.58],[1998.63,1.58],[1998.69,1.61],[1998.73,1.58],[1998.77,1.31],[1998.82,1.58],[1998.88,1.61],[1998.94,1.5],[1999.01,1.5],[1999.07,1.54],[1999.13,1.61],[1999.18,1.8],[1999.22,1.73],[1999.26,1.65],[1999.3,1.58],[1999.36,1.73],[1999.41,1.84],[1999.45,2.03],[1999.49,2.11],[1999.54,1.99],[1999.58,2.11],[1999.62,2.3],[1999.66,1.99],[1999.7,1.95],[1999.75,1.8],[1999.8,1.77],[1999.85,1.8],[1999.89,1.61],[1999.94,1.69],[1999.99,1.84],[2000.04,1.92],[2000.08,2.03],[2000.15,2.11],[2000.19,2.14],[2000.24,2.18],[2000.29,2.11],[2000.34,2.14],[2000.38,2.33],[2000.43,2.33],[2000.48,2.22],[2000.52,2.22],[2000.59,2.26],[2000.65,2.18],[2000.71,2.07],[2000.78,2.03],[2000.84,1.99],[2000.9,1.95],[2000.94,1.88],[2000.99,1.69],[2001.05,1.61],[2001.11,1.58],[2001.18,1.54],[2001.24,1.5],[2001.3,1.54],[2001.37,1.54],[2001.43,1.61],[2001.49,1.58],[2001.54,1.69],[2001.58,1.58],[2001.63,1.69],[2001.68,1.58],[2001.73,1.42],[2001.77,1.31],[2001.82,1.27],[2001.87,1.23],[2001.92,1.58],[2001.96,1.54],[2002.01,1.58],[2002.06,1.54],[2002.1,1.5],[2002.17,1.42],[2002.23,1.54],[2002.29,1.39],[2002.36,1.31],[2002.42,1.27],[2002.48,1.23],[2002.55,1.12],[2002.61,1.01],[2002.67,0.97],[2002.74,0.97],[2002.8,0.93],[2002.84,0.86],[2002.9,0.93],[2002.95,0.89],[2002.99,0.74],[2003.05,0.7],[2003.12,0.74],[2003.18,0.63],[2003.24,0.67],[2003.31,0.67],[2003.37,0.59],[2003.41,0.44],[2003.46,0.29],[2003.5,0.4],[2003.54,0.67],[2003.59,0.82],[2003.64,0.89],[2003.67,0.97],[2003.72,0.82],[2003.75,0.59],[2003.79,0.74],[2003.84,0.82],[2003.91,0.78],[2003.97,0.82],[2004.03,0.74],[2004.1,0.78],[2004.16,0.7],[2004.22,0.63],[2004.29,0.74],[2004.35,0.82],[2004.41,0.89],[2004.48,0.93],[2004.54,0.78],[2004.6,0.74],[2004.67,0.7],[2004.73,0.74],[2004.79,0.74],[2004.85,0.74],[2004.92,0.67],[2004.98,0.74],[2005.04,0.78],[2005.11,0.86],[2005.17,0.82],[2005.23,0.97],[2005.3,0.93],[2005.36,0.89],[2005.42,0.86],[2005.49,0.82],[2005.55,0.89],[2005.61,0.93],[2005.68,0.93],[2005.73,0.78],[2005.77,0.89],[2005.84,1.08],[2005.9,1.08],[2005.96,1.12],[2006.02,1.08],[2006.07,0.97],[2006.12,1.2],[2006.18,1.27],[2006.25,1.31],[2006.31,1.39],[2006.37,1.42],[2006.44,1.46],[2006.5,1.54],[2006.56,1.58],[2006.62,1.58],[2006.69,1.58],[2006.75,1.58],[2006.81,1.69],[2006.87,1.61],[2006.94,1.59],[2007.0,1.67],[2007.06,1.71],[2007.13,1.75],[2007.19,1.75],[2007.25,1.71],[2007.32,1.75],[2007.38,1.8],[2007.44,1.96],[2007.5,2.01],[2007.57,2.05],[2007.6,1.96],[2007.63,1.63],[2007.7,1.63],[2007.76,1.59],[2007.81,1.63],[2007.85,1.42],[2007.92,1.33],[2007.98,1.33],[2008.01,1.16],[2008.06,0.95],[2008.12,0.91],[2008.17,1.0],[2008.21,0.62],[2008.26,0.95],[2008.33,1.0],[2008.39,1.04],[2008.44,1.21],[2008.48,1.16],[2008.53,1.21],[2008.58,1.33],[2008.63,1.29],[2008.67,0.95],[2008.72,0.49],[2008.76,0.03],[2008.8,-0.02],[2008.84,0.15],[2008.88,0.03],[2008.91,-0.44],[2008.96,-0.99],[2009.01,-0.82],[2009.05,-0.78],[2009.12,-0.52],[2009.16,-0.69],[2009.21,-0.9],[2009.27,-0.73],[2009.34,-0.69],[2009.4,-0.35],[2009.46,-0.44],[2009.53,-0.52],[2009.59,-0.4],[2009.65,-0.35],[2009.7,0.15],[2009.75,0.15],[2009.79,0.15],[2009.84,-0.1],[2009.91,-0.23],[2009.96,0.15],[2010.0,0.15],[2010.05,0.03],[2010.1,0.07],[2010.16,0.03],[2010.21,0.11],[2010.25,0.24],[2010.3,0.11],[2010.35,0.07],[2010.41,-0.02],[2010.48,-0.23],[2010.54,-0.27],[2010.6,-0.23],[2010.66,-0.27],[2010.73,-0.23],[2010.79,-0.35],[2010.84,-0.48],[2010.87,-0.86],[2010.92,-0.73],[2010.97,-0.52],[2011.01,-0.86],[2011.08,-0.61],[2011.14,-0.65],[2011.2,-0.69],[2011.26,-0.73],[2011.33,-0.73],[2011.39,-0.78],[2011.45,-0.82],[2011.51,-0.78],[2011.58,-0.78],[2011.62,-0.9],[2011.67,-0.9],[2011.71,-0.94],[2011.75,-1.07],[2011.79,-0.94]];

const FONT = "'Liberation Sans', Arial, Helvetica, sans-serif";
const X_MIN = 1978.744, X_MAX = 2012.755, Y_MIN = -2.193, Y_MAX = 19.736;
const GRID = '#8c8c8c';
const toXY = arr => arr.map(p => ({x: p[0], y: p[1]}));

const framePlugin = {
  id: 'frame',
  afterDraw(chart) {
    const {ctx, chartArea: a, scales: {x, y}} = chart;
    ctx.save();
    ctx.lineCap = 'butt';
    for (let i = -11; i <= 98; i++) {
      const v = i / 5;
      if (v < Y_MIN || v > Y_MAX) continue;
      const py = y.getPixelForValue(v);
      const major = (i % 5 === 0);
      ctx.strokeStyle = '#000';
      ctx.lineWidth = major ? 5 : 2.4;
      ctx.beginPath(); ctx.moveTo(a.left, py); ctx.lineTo(a.left + (major ? 27 : 13), py); ctx.stroke();
      if (major) {
        ctx.strokeStyle = v === 0 ? '#6b6b6b' : GRID;
        ctx.lineWidth = 1.2;
        ctx.beginPath(); ctx.moveTo(a.left, py); ctx.lineTo(a.left + 27, py); ctx.stroke();
      }
    }
    for (let yr = 1979; yr <= 2012; yr++) {
      const px = x.getPixelForValue(yr);
      const major = (yr % 2 === 0);
      ctx.strokeStyle = '#000';
      ctx.lineWidth = major ? 5 : 2.4;
      ctx.beginPath(); ctx.moveTo(px, a.bottom); ctx.lineTo(px, a.bottom - (major ? 25 : 12)); ctx.stroke();
      if (major) {
        ctx.strokeStyle = GRID; ctx.lineWidth = 1.2;
        ctx.beginPath(); ctx.moveTo(px, a.bottom); ctx.lineTo(px, a.bottom - 25); ctx.stroke();
      }
    }
    ctx.strokeStyle = '#000';
    ctx.lineWidth = 5;
    ctx.strokeRect(a.left, a.top, a.right - a.left, a.bottom - a.top);
    const ds = chart.data.datasets;
    ctx.font = '38px ' + FONT;
    ctx.textBaseline = 'alphabetic';
    ctx.textAlign = 'left';
    for (let i = 0; i < ds.length; i++) {
      const ly = 146 + i * 53;
      ctx.strokeStyle = ds[i].borderColor;
      ctx.lineWidth = 3;
      ctx.beginPath(); ctx.moveTo(974, ly); ctx.lineTo(1188, ly); ctx.stroke();
      ctx.fillStyle = '#000';
      ctx.fillText(ds[i].label, 1214, ly + 14.5);
    }
    ctx.restore();
  }
};

new Chart(document.getElementById('c'), {
  type: 'line',
  data: {
    datasets: [
      {label: seriesLabels[0], data: toXY(mortgageSeries), borderColor: '#00f000', borderWidth: 3, pointRadius: 0, fill: false, order: 2},
      {label: seriesLabels[1], data: toXY(bondSeries), borderColor: '#0030ff', borderWidth: 3, pointRadius: 0, fill: false, order: 1},
      {label: seriesLabels[2], data: toXY(spreadSeries), borderColor: '#ff2200', borderWidth: 3, pointRadius: 0, fill: 'origin', backgroundColor: '#b8b8b8', order: 0}
    ]
  },
  options: {
    responsive: false,
    animation: false,
    devicePixelRatio: 1,
    layout: {padding: {top: 7, right: 5.5, left: 0, bottom: 0}},
    plugins: {legend: {display: false}, tooltip: {enabled: false}, filler: {drawTime: 'beforeDraw'}},
    elements: {line: {tension: 0}},
    scales: {
      x: {
        type: 'linear', min: X_MIN, max: X_MAX,
        afterBuildTicks: s => { s.ticks = xTickYears.map(v => ({value: v})); },
        afterFit: s => { s.height = 160.5; s.paddingLeft = 0; s.paddingRight = 0; },
        border: {display: false},
        grid: {color: GRID, lineWidth: 1, drawTicks: false},
        ticks: {autoSkip: false, minRotation: 90, maxRotation: 90, padding: 14, color: '#000',
                font: {family: FONT, size: 28.5}, callback: v => v + '-01-01'}
      },
      y: {
        type: 'linear', min: Y_MIN, max: Y_MAX,
        afterBuildTicks: s => { s.ticks = yTickValues.map(v => ({value: v})); },
        afterFit: s => { s.width = 120.5; s.paddingTop = 0; s.paddingBottom = 0; },
        border: {display: false},
        grid: {drawTicks: false,
               color: c => (c.tick && c.tick.value === 0) ? '#6b6b6b' : GRID,
               lineWidth: c => (c.tick && c.tick.value === 0) ? 4.5 : 1},
        ticks: {padding: 22, color: '#000', font: {family: FONT, size: 27}, callback: v => String(v)},
        title: {display: true, text: 'Spread (percent)', color: '#000',
                font: {family: FONT, size: 48, weight: 'bold'}, padding: {top: 7, bottom: 0}}
      }
    }
  },
  plugins: [framePlugin]
});
</script>
</body></html>
